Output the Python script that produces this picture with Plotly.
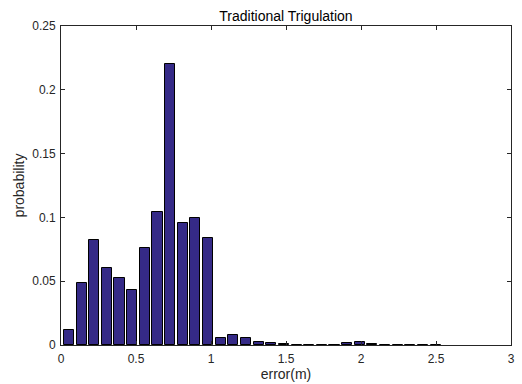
import plotly.graph_objects as go

bin_start = 0.053
bin_width = 0.0843
probability = [0.0118, 0.0488, 0.0823, 0.0606, 0.0523, 0.0429, 0.0758, 0.104, 0.220, 0.0954,
               0.0998, 0.0841, 0.0052, 0.0078, 0.0052, 0.0021, 0.0013, 0.0008, 0.0003, 0.0003,
               0.0003, 0.0003, 0.0013, 0.0026, 0.0005, 0.0003, 0.0003, 0.0003, 0.0003, 0.0003]
centers = [bin_start + i * bin_width for i in range(len(probability))]

x_ticks = [0, 0.5, 1, 1.5, 2, 2.5, 3]
y_ticks = [0, 0.05, 0.1, 0.15, 0.2, 0.25]

fig = go.Figure(go.Bar(
    x=centers, y=probability, width=bin_width * 0.8,
    marker=dict(color="#352A87", line=dict(color="#000000", width=1)),
))

axis_common = dict(
    showgrid=False, zeroline=False, showline=True, linecolor="#262626", linewidth=1,
    mirror="ticks", ticks="inside", ticklen=4, tickcolor="#262626", automargin=False,
    tickfont=dict(family="Liberation Sans, Arial", size=12, color="#262626"),
)

fig.update_layout(
    width=522, height=384,
    margin=dict(l=61, r=11, t=26, b=39, autoexpand=False),
    paper_bgcolor="white", plot_bgcolor="white",
    showlegend=False,
    font=dict(family="Liberation Sans, Arial", size=12, color="#262626"),
    title=dict(text="Traditional Trigulation", x=0.5, xref="paper", xanchor="center",
               y=1, yref="paper", yanchor="bottom", pad=dict(b=5),
               font=dict(size=14, color="#000000")),
    xaxis=dict(range=[0, 3], tickvals=x_ticks, ticktext=[f"{v:g}" for v in x_ticks],
               ticklabelstandoff=3,
               title=dict(text="error(m)", standoff=3, font=dict(size=14)), **axis_common),
    yaxis=dict(range=[0, 0.25], tickvals=y_ticks, ticktext=[f"{v:g}" for v in y_ticks],
               ticklabelstandoff=2,
               title=dict(text="probability", standoff=4, font=dict(size=14)), **axis_common),
    bargap=0,
)

fig.write_html("out.html")
